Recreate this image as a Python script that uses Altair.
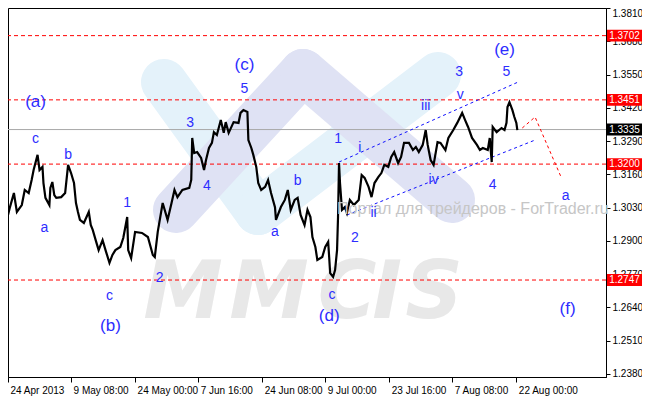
import altair as alt
import pandas as pd

# ---------------- data ----------------
bar_index = [0, 2, 6, 9, 14, 17, 21, 24, 26, 30,
             32, 35, 36, 38, 42, 43, 45, 47, 49, 54,
             58, 61, 64, 67, 69, 71, 73, 77, 82, 84,
             86, 89, 92, 96, 99, 103, 106, 109, 114, 117,
             121, 122, 125, 129, 136, 142, 147, 149, 152, 157,
             162, 166, 169, 172, 177, 184, 186, 187, 189, 192,
             196, 199, 201, 204, 207, 209, 212, 216, 219, 221,
             224, 229, 234, 236, 239, 243, 244, 247, 249, 252,
             254, 257, 261, 264, 267, 271, 272, 277, 281, 284,
             287, 291, 294, 297, 301, 304, 307, 309, 312, 314,
             319, 322, 325, 326, 327, 330, 332, 334, 335, 336,
             337, 339, 342, 344, 347, 351, 356, 359, 362, 366,
             369, 372, 376, 379, 382, 386, 389, 392, 396, 399,
             402, 407, 411, 414, 417, 421, 424, 426, 429, 432,
             436, 439, 444, 447, 452, 456, 461, 464, 467, 471,
             476, 479, 482, 487, 489, 491, 492, 496, 501, 504,
             506, 507, 509, 512, 514, 516, 517]
close_price = [1.3001, 1.3032, 1.3087, 1.3013, 1.3040, 1.3099, 1.3087, 1.3138, 1.3177, 1.3236,
               1.3177, 1.3189, 1.3126, 1.3068, 1.3040, 1.3107, 1.3130, 1.3079, 1.3068, 1.3071,
               1.3087, 1.3197, 1.3165, 1.3126, 1.3048, 1.3013, 1.2982, 1.2970, 1.3013, 1.2962,
               1.2943, 1.2903, 1.2864, 1.2903, 1.2864, 1.2814, 1.2845, 1.2864, 1.2876, 1.2911,
               1.2993, 1.2864, 1.2833, 1.2935, 1.2931, 1.2915, 1.2845, 1.2837, 1.2935, 1.3048,
               1.2982, 1.3048, 1.3099, 1.3071, 1.3099, 1.3107, 1.3138, 1.3302, 1.3243, 1.3247,
               1.3224, 1.3177, 1.3216, 1.3263, 1.3283, 1.3325, 1.3314, 1.3372, 1.3322, 1.3364,
               1.3322, 1.3364, 1.3361, 1.3400, 1.3411, 1.3404, 1.3294, 1.3263, 1.3236, 1.3189,
               1.3126, 1.3099, 1.3111, 1.3138, 1.3087, 1.3032, 1.2982, 1.3032, 1.3060, 1.3099,
               1.3021, 1.3060, 1.3068, 1.3001, 1.2962, 1.3021, 1.2993, 1.2915, 1.2876, 1.2825,
               1.2837, 1.2876, 1.2896, 1.2837, 1.2774, 1.2759, 1.2786, 1.2864, 1.2993, 1.3204,
               1.3126, 1.3021, 1.3032, 1.3009, 1.3060, 1.3040, 1.3060, 1.3157, 1.3146, 1.3111,
               1.3071, 1.3126, 1.3150, 1.3165, 1.3197, 1.3189, 1.3228, 1.3247, 1.3204, 1.3228,
               1.3283, 1.3283, 1.3255, 1.3267, 1.3247, 1.3275, 1.3333, 1.3275, 1.3216, 1.3197,
               1.3286, 1.3283, 1.3255, 1.3302, 1.3333, 1.3361, 1.3400, 1.3372, 1.3345, 1.3302,
               1.3275, 1.3255, 1.3263, 1.3255, 1.3302, 1.3208, 1.3345, 1.3325, 1.3341, 1.3333,
               1.3361, 1.3423, 1.3442, 1.3411, 1.3384, 1.3361, 1.3333]

levels = [1.3702, 1.3451, 1.3200, 1.2747]
last_price = [1.3335]

x_tick_pos = [0, 64, 129, 193, 258, 322, 387, 451, 516]
x_tick_lab = ["24 Apr 2013", "9 May 08:00", "24 May 00:00", "7 Jun 16:00", "24 Jun 08:00",
              "9 Jul 00:00", "23 Jul 16:00", "7 Aug 08:00", "22 Aug 00:00"]
y_ticks = [1.2380, 1.2510, 1.2640, 1.2770, 1.2900, 1.3030, 1.3160, 1.3290,
           1.3420, 1.3550, 1.3680, 1.3810]

wave_text = ["(a)", "c", "b", "a", "1", "c", "(b)", "2", "3", "4",
             "(c)", "5", "b", "a", "1", "i", "2", "ii", "c", "(d)",
             "iii", "3", "v", "iv", "4", "(e)", "5", "a", "(f)"]
wave_x = [28, 28, 61, 37, 121, 103, 104, 154, 185, 202,
          240, 240, 294, 271, 335, 357, 352, 371, 329, 326,
          424, 458, 459, 432, 492, 504, 506, 566, 568]
wave_y = [1.3443, 1.3298, 1.3236, 1.2950, 1.3048, 1.2685, 1.2567, 1.2755, 1.3361, 1.3114,
          1.3587, 1.3494, 1.3134, 1.2935, 1.3298, 1.3263, 1.2911, 1.3009, 1.2688, 1.2606,
          1.3427, 1.3560, 1.3470, 1.3138, 1.3118, 1.3646, 1.3560, 1.3075, 1.2634]

chan_up_x = [336, 518]
chan_up_y = [1.3208, 1.3521]
chan_lo_x = [344, 535]
chan_lo_y = [1.3001, 1.3294]
proj_x = [522, 535, 561]
proj_y = [1.3341, 1.3384, 1.3153]

watermark_site = "Портал для трейдеров - ForTrader.ru"
watermark_logo = ["M", "M", "C", "I", "S"]

# ---------------- styling / layout ----------------
W, H = 598, 369
FONT = "Liberation Sans"
BLUE = "#2d2dff"
xs = alt.Scale(domain=[0, 607], nice=False, zero=False)
ys = alt.Scale(domain=[1.2368, 1.3810], nice=False, zero=False)

label_expr = ""
for pos, lab in zip(x_tick_pos, x_tick_lab):
    label_expr += f"datum.value == {pos} ? '{lab}' : "
label_expr += "''"

x_axis = alt.Axis(
    values=x_tick_pos, labelExpr=label_expr, title=None, orient="bottom", grid=False,
    tickSize=5, labelAlign="left", labelOffset=2, labelPadding=3, labelFont=FONT,
    labelFontSize=10, labelColor="black", tickColor="black", domainColor="black",
    labelOverlap=False, labelFlush=False)
y_axis = alt.Axis(
    values=y_ticks, format=".4f", orient="right", title=None, grid=False,
    tickSize=4, labelPadding=2, labelFont=FONT, labelFontSize=10, labelColor="black",
    tickColor="black", domainColor="black", labelOverlap=False, labelFlush=1)


def X(field):
    return alt.X(field, scale=xs, axis=x_axis)


def Y(field):
    return alt.Y(field, scale=ys, axis=y_axis)


one = pd.DataFrame({"k": [0]})
layers = []

price_df = pd.DataFrame({"i": bar_index, "p": close_price})

# axis-carrying invisible base layer
layers.append(
    alt.Chart(price_df).mark_line(opacity=0).encode(x=X("i:Q"), y=Y("p:Q"), order="i:Q")
)

# decorative logo bands (pixel positions of the watermark)
bands = [
    ((156, 74), (250, 204), "#e4f2fa"),
    ((250, 204), (430, 67), "#e4f2fa"),
    ((168, 202), (295, 64), "#dfe2f4"),
    ((295, 64), (444, 192), "#dfe2f4"),
]
for (ax, ay), (bx, by), col in bands:
    layers.append(
        alt.Chart(one).mark_rule(color=col, strokeWidth=46, strokeCap="round").encode(
            x=alt.value(ax), y=alt.value(ay), x2=alt.value(bx), y2=alt.value(by)
        )
    )

logo_px = [175, 261, 339, 379, 426]
for letter, px in zip(watermark_logo, logo_px):
    layers.append(
        alt.Chart(one).mark_text(text=letter, font="DejaVu Sans", fontSize=80, fontWeight="bold",
                                 fontStyle="italic", color="#e8e8e8", align="center",
                                 baseline="alphabetic").encode(x=alt.value(px), y=alt.value(310))
    )

lev_df = pd.DataFrame({"level": levels})
cur_df = pd.DataFrame({"level": last_price})

layers.append(
    alt.Chart(lev_df).mark_rule(color="#ff0000", strokeDash=[4, 3], strokeWidth=1).encode(
        y=Y("level:Q")
    )
)
layers.append(
    alt.Chart(cur_df).mark_rule(color="#a8a8a8", strokeWidth=1).encode(
        y=Y("level:Q")
    )
)

# channel lines and projection
for cx, cy, col, dash in [(chan_up_x, chan_up_y, "#1010ff", [3, 3]),
                          (chan_lo_x, chan_lo_y, "#1010ff", [3, 3]),
                          (proj_x, proj_y, "#ff0000", [3, 3])]:
    d = pd.DataFrame({"i": cx, "p": cy})
    layers.append(
        alt.Chart(d).mark_line(color=col, strokeDash=dash, strokeWidth=1).encode(
            x=X("i:Q"), y=Y("p:Q"), order="i:Q",
        )
    )

layers.append(
    alt.Chart(price_df).mark_line(color="black", strokeWidth=2.2).encode(
        x=X("i:Q"), y=Y("p:Q"), order="i:Q",
    )
)

# site watermark text
layers.append(
    alt.Chart(one).mark_text(text=watermark_site, font=FONT, fontSize=16, color="#c6c6c6",
                             align="left", baseline="middle").encode(
        x=alt.value(329), y=alt.value(201)
    )
)

# wave labels
wave_df = pd.DataFrame({"t": wave_text, "x": wave_x, "y": wave_y})
wave_df["fs"] = [17 if t.startswith("(") else 14 for t in wave_text]
layers.append(
    alt.Chart(wave_df).mark_text(font=FONT, color=BLUE, align="center", baseline="middle").encode(
        x=X("x:Q"), y=Y("y:Q"),
        text="t:N",
        size=alt.Size("fs:Q", scale=None, legend=None),
    )
)

# price tag boxes on the right axis
box_shape = "M-1,-0.34L1,-0.34L1,0.34L-1,0.34Z"
for df, col in [(lev_df, "#ff0000"), (cur_df, "#000000")]:
    layers.append(
        alt.Chart(df).mark_point(shape=box_shape, size=1225, filled=True, opacity=1,
                                 color=col, strokeWidth=0).encode(
            x=alt.value(616.5), y=Y("level:Q")
        )
    )
    layers.append(
        alt.Chart(df).mark_text(font=FONT, fontSize=10, color="white", align="center",
                                baseline="middle").encode(
            x=alt.value(616.5), y=Y("level:Q"),
            text=alt.Text("level:Q", format=".4f"),
        )
    )

chart = alt.layer(*layers).properties(
    width=W, height=H,
    padding={"left": 0, "top": 0, "right": 36, "bottom": 21},
    autosize=alt.AutoSizeParams(type="none"),
    background="white",
).configure_view(stroke="black", strokeWidth=1)

chart.save("out.html", embed_options={"renderer": "svg", "actions": False})
